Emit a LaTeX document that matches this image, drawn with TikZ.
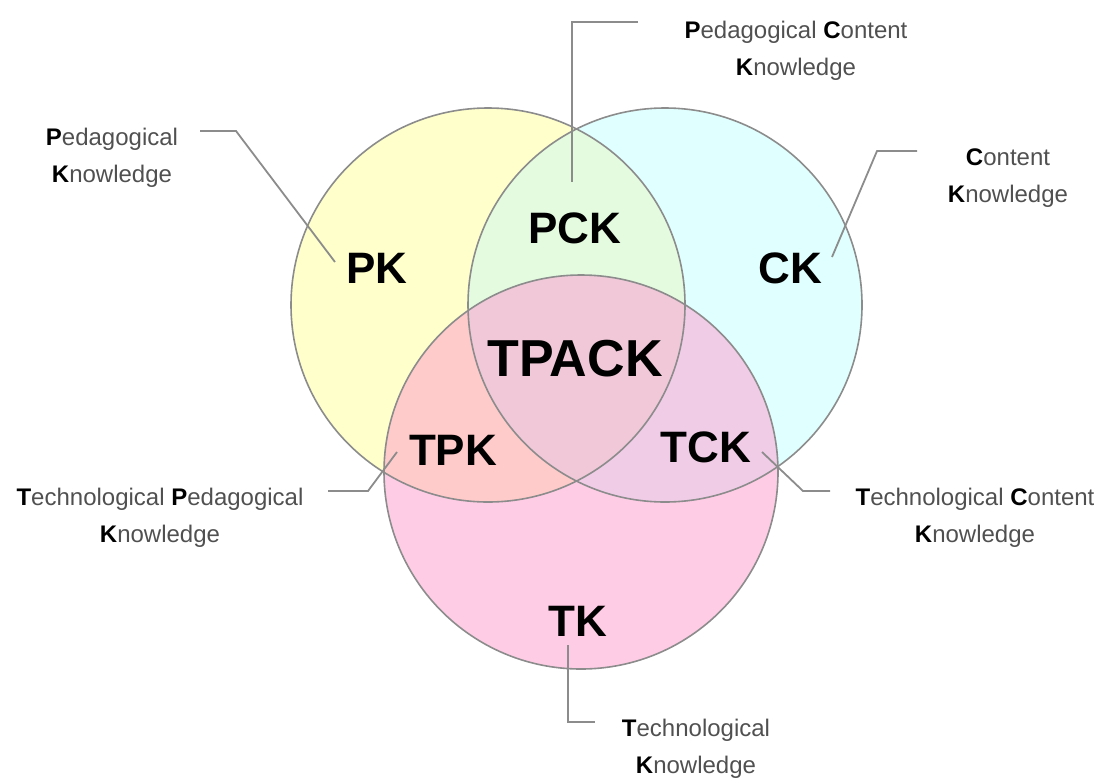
\documentclass[tikz,border=0pt]{standalone}
\usepackage{fontspec}
\setmainfont{Liberation Sans}
\usetikzlibrary{positioning}

\definecolor{pkfill}{HTML}{FFFFCC}
\definecolor{ckfill}{HTML}{E0FFFF}
\definecolor{tkfill}{HTML}{FFCCE5}
\definecolor{pckfill}{HTML}{E4FBE0}
\definecolor{tpkfill}{HTML}{FFCACA}
\definecolor{tckfill}{HTML}{F0CCE6}
\definecolor{tpackfill}{HTML}{F0C8D8}
\definecolor{edgegray}{HTML}{8C8C8C}
\definecolor{notegray}{HTML}{505050}

\newcommand{\initl}[1]{\textcolor{black}{\bfseries #1}}

\begin{document}
\begin{tikzpicture}[x=1pt,y=-1pt,
  ring/.style={draw=edgegray,line width=1.6pt},
  big/.style={font=\fontsize{44}{44}\selectfont\bfseries},
  note/.style={font=\fontsize{24}{37}\selectfont,align=center,text=notegray},
  lead/.style={draw=edgegray,line width=1.8pt}]

  \path[use as bounding box] (0,0) rectangle (1102,782);

  % circle centres
  \coordinate (pc) at (488,305);
  \coordinate (cc) at (665,305);
  \coordinate (tc) at (581,472);

  \fill[pkfill] (pc) circle (197);
  \fill[ckfill] (cc) circle (197);
  \fill[tkfill] (tc) circle (197);

  \begin{scope}
    \clip (pc) circle (197);
    \fill[pckfill] (cc) circle (197);
    \fill[tpkfill] (tc) circle (197);
  \end{scope}
  \begin{scope}
    \clip (cc) circle (197);
    \fill[tckfill] (tc) circle (197);
    \clip (pc) circle (197);
    \fill[tpackfill] (tc) circle (197);
  \end{scope}

  \draw[ring] (pc) circle (197);
  \draw[ring] (cc) circle (197);
  \draw[ring] (tc) circle (197);

  % big labels
  \node[big] (pk) at (377,268) {PK};
  \node[big] (pck) at (575,228) {PCK};
  \node[big] (ck) at (790,268) {CK};
  \node[big,font=\fontsize{52}{52}\selectfont\bfseries] (tpack) at (575,359) {TPACK};
  \node[big] (tpk) at (453,450) {TPK};
  \node[big] (tck) at (706,447) {TCK};
  \node[big] (tk) at (578,621) {TK};

  % notes
  \node[note] (pkn) at (112,158) {\initl{P}edagogical\\\initl{K}nowledge};
  \node[note] (pckn) at (796,51) {\initl{P}edagogical \initl{C}ontent\\\initl{K}nowledge};
  \node[note] (ckn) at (1008,178) {\initl{C}ontent\\\initl{K}nowledge};
  \node[note] (tpkn) at (160,518) {\initl{T}echnological \initl{P}edagogical\\\initl{K}nowledge};
  \node[note] (tckn) at (975,518) {\initl{T}echnological \initl{C}ontent\\\initl{K}nowledge};
  \node[note] (tkn) at (696,749) {\initl{T}echnological\\\initl{K}nowledge};

  % leader lines
  \coordinate (pka) at (200,131);
  \coordinate (pkb) at (236,131);
  \coordinate (pkc) at (335,262);
  \draw[lead] (pka) -- (pkb) -- (pkc);

  \coordinate (pcka) at (638,22);
  \coordinate (pckb) at (572,22);
  \coordinate (pckc) at (572,182);
  \draw[lead] (pcka) -- (pckb) -- (pckc);

  \coordinate (cka) at (917,151);
  \coordinate (ckb) at (877,151);
  \coordinate (ckc) at (832,257);
  \draw[lead] (cka) -- (ckb) -- (ckc);

  \coordinate (tpka) at (328,491);
  \coordinate (tpkb) at (368,491);
  \coordinate (tpkc) at (397,452);
  \draw[lead] (tpka) -- (tpkb) -- (tpkc);

  \coordinate (tcka) at (762,452);
  \coordinate (tckb) at (803,491);
  \coordinate (tckc) at (830,491);
  \draw[lead] (tcka) -- (tckb) -- (tckc);

  \coordinate (tka) at (568,645);
  \coordinate (tkb) at (568,722);
  \coordinate (tkc) at (595,722);
  \draw[lead] (tka) -- (tkb) -- (tkc);

\end{tikzpicture}
\end{document}
